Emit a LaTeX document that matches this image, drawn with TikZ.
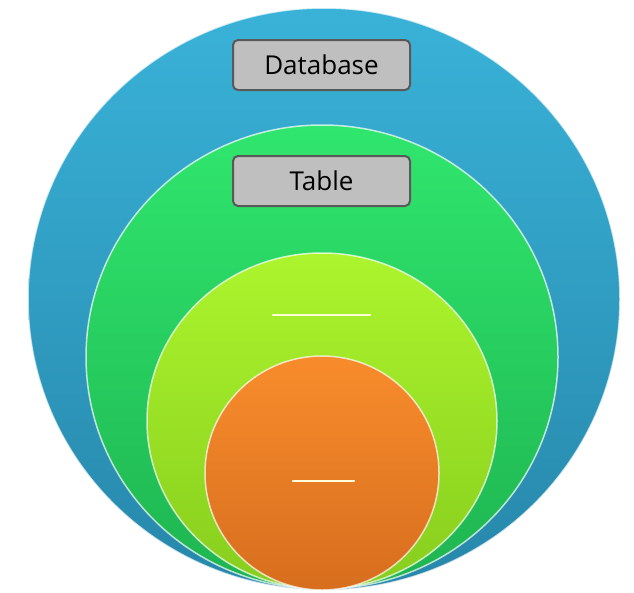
\documentclass[tikz,border=0pt]{standalone}
\usepackage{fontspec}
\setmainfont{Open Sans}
\begin{document}
\begin{tikzpicture}[x=1pt,y=-1pt,
  rim/.style={draw=white,draw opacity=0.7,line width=1.5pt},
  labelbox/.style={draw=black!65,line width=2pt,fill=black!25,rounded corners=5pt,
     minimum width=177pt,minimum height=50pt,font=\fontsize{26}{30}\selectfont,text=black,inner sep=0pt},
  dashline/.style={draw=white!85!yellow,line width=2.5pt,line cap=round}]
\useasboundingbox (0,0) rectangle (634,592);
\fill[white] (0,0) rectangle (634,592);
% outer blue
\shade[top color={rgb,255:red,58;green,178;blue,216},bottom color={rgb,255:red,38;green,135;blue,170}]
  (324,299) ellipse [x radius=296,y radius=291];
\draw[rim] (324,299) ellipse [x radius=296,y radius=291];
% green
\shade[top color={rgb,255:red,48;green,230;blue,110},bottom color={rgb,255:red,30;green,180;blue,80}]
  (322,357) ellipse [x radius=236,y radius=232];
\draw[rim] (322,357) ellipse [x radius=236,y radius=232];
% yellow green
\shade[top color={rgb,255:red,172;green,245;blue,45},bottom color={rgb,255:red,135;green,205;blue,30}]
  (322,421) ellipse [x radius=175,y radius=168];
\draw[rim] (322,421) ellipse [x radius=175,y radius=168];
% orange
\shade[top color={rgb,255:red,248;green,140;blue,44},bottom color={rgb,255:red,215;green,110;blue,30}]
  (322,473) ellipse [x radius=117,y radius=117];
\draw[rim] (322,473) ellipse [x radius=117,y radius=117];
% labels
\node[labelbox] (db) at (321.5,65) {Database};
\node[labelbox] (tb) at (321.5,181) {Table};
\coordinate (l1a) at (273,315);
\coordinate (l1b) at (370,315);
\draw[dashline] (l1a) -- (l1b);
\coordinate (l2a) at (293,481);
\coordinate (l2b) at (354,481);
\draw[dashline] (l2a) -- (l2b);
\end{tikzpicture}
\end{document}
